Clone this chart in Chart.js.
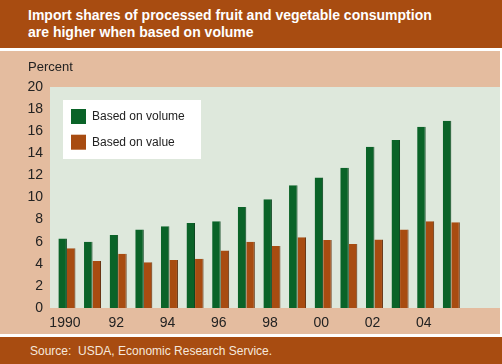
<!DOCTYPE html>
<html>
<head>
<meta charset="utf-8">
<script src="https://cdn.jsdelivr.net/npm/chart.js@4"></script>
<style>
    body { margin: 0; width: 502px; height: 364px; background: #fff; position: relative; overflow: hidden; font-family: "Liberation Sans", Arial, sans-serif; }
    .head { position: absolute; left: 0; top: 0; width: 502px; height: 48px; background: #a84c11; }
    .head b { position: absolute; left: 28px; top: 7px; color: #fff; font-size: 14px; line-height: 17px; }
    .paper { position: absolute; left: 0; top: 51px; width: 500px; height: 283px; background: #e4bc9f; }
    .unit { position: absolute; left: 28px; top: 8px; font-size: 13px; color: #222; }
    canvas { position: absolute; left: 0; top: 0; }
    .foot { position: absolute; left: 0; top: 337px; width: 502px; height: 27px; background: #a84c11; }
    .foot span { position: absolute; left: 30px; top: 7px; font-size: 12px; color: #f6e8dc; }
</style>
</head>
<body>
<div class="head"><b>Import shares of processed fruit and vegetable consumption<br>are higher when based on volume</b></div>
<div class="paper">
    <canvas id="mine" width="500" height="283"></canvas>
    <div class="unit">Percent</div>
</div>
<div class="foot"><span>Source:&nbsp; USDA, Economic Research Service.</span></div>
<script>
    const years = [1990, 1991, 1992, 1993, 1994, 1995, 1996, 1997, 1998, 1999, 2000, 2001, 2002, 2003, 2004, 2005];
    const volume = [6.3, 6.0, 6.6, 7.1, 7.4, 7.7, 7.85, 9.15, 9.85, 11.1, 11.8, 12.7, 14.6, 15.2, 16.4, 16.95];
    const value = [5.4, 4.25, 4.9, 4.15, 4.35, 4.45, 5.2, 6.0, 5.6, 6.4, 6.15, 5.8, 6.2, 7.1, 7.85, 7.75];
    const xTicks = [1990, 1992, 1994, 1996, 1998, 2000, 2002, 2004];
    const yTicks = [0, 2, 4, 6, 8, 10, 12, 14, 16, 18, 20];

    const green = "#0a6328";
    const rust = "#a84c11";
    const font = "Liberation Sans, Arial, sans-serif";

    // plot background + legend box inside the plot
    const plotBg = {
        id: "plotBg",
        beforeDraw(chart) {
            const a = chart.chartArea, c = chart.ctx;
            c.save();
            c.fillStyle = "#dee8dc";
            c.fillRect(a.left, a.top, a.right - a.left, a.bottom - a.top);
            c.restore();
        },
        afterDraw(chart) {
            const a = chart.chartArea, c = chart.ctx;
            c.save();
            c.fillStyle = "#fff";
            c.fillRect(a.left + 13, a.top + 13, 138, 59);
            c.font = "12px " + font;
            c.textBaseline = "middle";
            chart.data.datasets.forEach((ds, i) => {
                const y = a.top + 22 + i * 25.7;
                c.fillStyle = ds.backgroundColor;
                c.fillRect(a.left + 21, y, 15, 15);
                c.fillStyle = "#222";
                c.fillText(ds.label, a.left + 42, y + 8);
            });
            c.restore();
        }
    };

    new Chart(document.getElementById("mine").getContext("2d"), {
        type: "bar",
        data: {
            datasets: [{
                label: "Based on volume",
                data: years.map((y, i) => ({ x: y, y: volume[i] })),
                backgroundColor: green,
                borderColor: "#06401a",
                borderWidth: { right: 1, top: 0, left: 0, bottom: 0 }
            }, {
                label: "Based on value",
                data: years.map((y, i) => ({ x: y, y: value[i] })),
                backgroundColor: rust,
                borderColor: "#5e2a08",
                borderWidth: { right: 1, top: 0, left: 0, bottom: 0 }
            }]
        },
        options: {
            responsive: false,
            animation: false,
            devicePixelRatio: 1,
            categoryPercentage: 0.665,
            barPercentage: 1,
            layout: { padding: { top: 36, right: 0, left: 0, bottom: 0 } },
            plugins: { legend: { display: false }, tooltip: { enabled: false } },
            scales: {
                x: {
                    type: "linear",
                    min: 1989.34,
                    max: 2006.9,
                    offset: false,
                    grid: { display: false, drawTicks: false },
                    border: { display: false },
                    afterBuildTicks: axis => { axis.ticks = xTicks.map(v => ({ value: v })); },
                    afterFit: axis => { axis.height = 26; },
                    ticks: {
                        autoSkip: false,
                        maxRotation: 0,
                        padding: 7,
                        labelOffset: -2,
                        color: "#222",
                        font: { family: font, size: 14 },
                        callback: v => v == 1990 ? "1990" : String(v).slice(2)
                    }
                },
                y: {
                    min: 0,
                    max: 20,
                    grid: { display: false, drawTicks: false },
                    border: { display: false },
                    afterBuildTicks: axis => { axis.ticks = yTicks.map(v => ({ value: v })); },
                    afterFit: axis => { axis.width = 50; },
                    ticks: {
                        padding: 7,
                        color: "#222",
                        font: { family: font, size: 14 }
                    }
                }
            }
        },
        plugins: [plotBg]
    });
</script>
</body>
</html>
